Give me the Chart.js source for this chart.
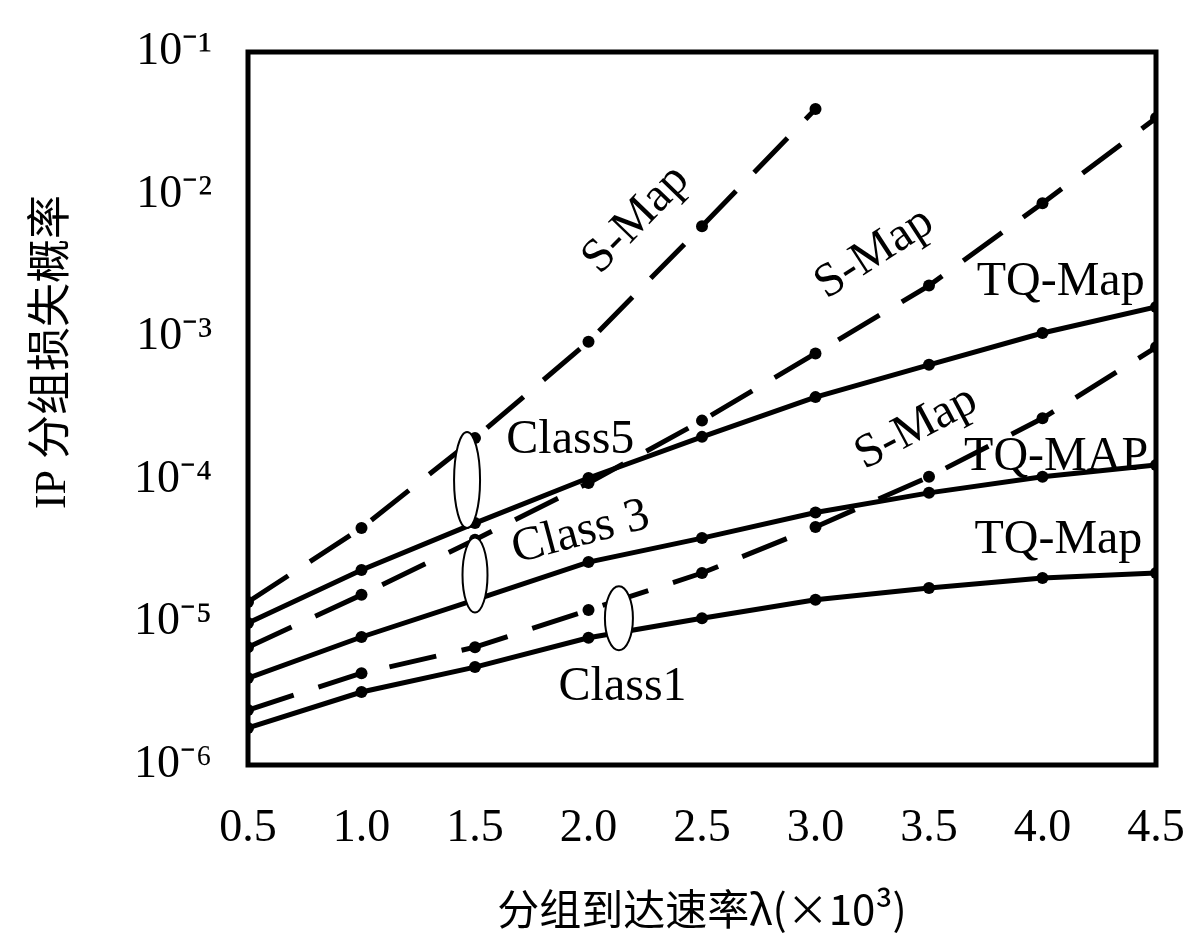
<!DOCTYPE html>
<html>
<head>
<meta charset="utf-8">
<script src="https://cdn.jsdelivr.net/npm/chart.js@4.4.0/dist/chart.umd.min.js"></script>
<style>
  html, body { margin: 0; padding: 0; background: #fff; }
</style>
</head>
<body>
<canvas id="chart" width="1200" height="944"></canvas>
<script>
// Arrival rate (x10^3) on the x axis
const rates = [0.5, 1.0, 1.5, 2.0, 2.5, 3.0, 3.5, 4.0, 4.5];
const yExponents = [-6, -5, -4, -3, -2, -1];

// IP packet loss probability
const class5SMap  = [1.39e-5, 4.6e-5, 1.96e-4, 9.3e-4, 6.0e-3, 3.98e-2];
const class5TQMap = [9.9e-6, 2.33e-5, 4.97e-5, 1.03e-4, 2.0e-4, 3.8e-4, 6.4e-4, 1.07e-3, 1.63e-3];
const class3SMap  = [6.7e-6, 1.56e-5, 3.8e-5, 9.5e-5, 2.6e-4, 7.7e-4, 2.3e-3, 8.7e-3, 3.44e-2];
const class3TQMap = [4.07e-6, 7.9e-6, 1.44e-5, 2.65e-5, 3.9e-5, 5.9e-5, 8.1e-5, 1.05e-4, 1.27e-4];
const class1SMap  = [2.43e-6, 4.4e-6, 6.7e-6, 1.22e-5, 2.22e-5, 4.67e-5, 1.05e-4, 2.7e-4, 8.5e-4];
const class1TQMap = [1.82e-6, 3.25e-6, 4.86e-6, 7.8e-6, 1.07e-5, 1.44e-5, 1.74e-5, 2.05e-5, 2.22e-5];

// Text placed on the curves (data coordinates, baseline centre)
const curveLabels = [
    { text: 'S-Map',   x: 2.25, y: 5.8e-3,  angle: -46 },
    { text: 'S-Map',   x: 3.29, y: 3.26e-3, angle: -33 },
    { text: 'TQ-Map',  x: 4.08, y: 1.98e-3, angle: 0 },
    { text: 'S-Map',   x: 3.47, y: 1.93e-4, angle: -28 },
    { text: 'TQ-MAP',  x: 4.06, y: 1.17e-4, angle: 0 },
    { text: 'TQ-Map',  x: 4.07, y: 3.07e-5, angle: 0 },
    { text: 'Class5',  x: 1.92, y: 1.54e-4, angle: 0 },
    { text: 'Class 3', x: 1.98, y: 3.49e-5, angle: -15 },
    { text: 'Class1',  x: 2.15, y: 2.86e-6, angle: 0 }
];

// Ellipses grouping each class pair
const groupMarks = [
    { x: 1.465, y: 9.97e-5, rx: 13,   ry: 48 },
    { x: 1.5,   y: 2.15e-5, rx: 12.5, ry: 37.5 },
    { x: 2.134, y: 1.07e-5, rx: 14,   ry: 32 }
];

const serif = "'Liberation Serif', 'Times New Roman', serif";
const sup = { '-': '\u207B', '1': '\u00B9', '2': '\u00B2', '3': '\u00B3', '4': '\u2074', '5': '\u2075', '6': '\u2076' };

function series(values, dashed) {
    return {
        data: values.map((v, i) => ({ x: rates[i], y: v })),
        borderColor: '#000',
        backgroundColor: '#000',
        borderWidth: 5,
        borderDash: dashed ? [48, 26] : [],
        pointRadius: 6,
        pointBackgroundColor: '#000',
        pointBorderWidth: 0,
        tension: 0
    };
}

const overlayPlugin = {
    id: 'overlay',
    afterDatasetsDraw(chart) {
        const { ctx, chartArea, scales } = chart;
        const xs = scales.x, ys = scales.y;
        ctx.save();

        // group ellipses (white inside)
        ctx.lineWidth = 2;
        ctx.strokeStyle = '#000';
        ctx.fillStyle = '#fff';
        groupMarks.forEach(m => {
            ctx.beginPath();
            ctx.ellipse(xs.getPixelForValue(m.x), ys.getPixelForValue(m.y), m.rx, m.ry, 0, 0, Math.PI * 2);
            ctx.fill();
            ctx.stroke();
        });

        // curve labels
        ctx.fillStyle = '#000';
        ctx.font = '48px ' + serif;
        ctx.textAlign = 'center';
        ctx.textBaseline = 'alphabetic';
        curveLabels.forEach(l => {
            ctx.save();
            ctx.translate(xs.getPixelForValue(l.x), ys.getPixelForValue(l.y));
            ctx.rotate(l.angle * Math.PI / 180);
            ctx.fillText(l.text, 0, 0);
            ctx.restore();
        });

        // plot frame
        ctx.lineWidth = 5;
        ctx.strokeRect(chartArea.left, chartArea.top, chartArea.right - chartArea.left, chartArea.bottom - chartArea.top);

        // y axis title
        ctx.save();
        ctx.translate(53, 352);
        ctx.rotate(-Math.PI / 2);
        ctx.font = "44px 'Liberation Serif', 'Noto Sans CJK SC', serif";
        ctx.textBaseline = 'middle';
        ctx.fillText('IP 分组损失概率', 0, 0);
        ctx.restore();

        ctx.restore();
    }
};

new Chart(document.getElementById('chart'), {
    type: 'line',
    data: {
        datasets: [
            series(class5SMap, true),
            series(class5TQMap, false),
            series(class3SMap, true),
            series(class3TQMap, false),
            series(class1SMap, true),
            series(class1TQMap, false)
        ]
    },
    options: {
        responsive: false,
        animation: false,
        layout: { padding: { top: 52, right: 44, left: 0, bottom: 0 } },
        plugins: { legend: { display: false }, tooltip: { enabled: false } },
        scales: {
            x: {
                type: 'linear',
                min: 0.5,
                max: 4.5,
                grid: { display: false, drawTicks: false },
                border: { display: false },
                afterBuildTicks: s => { s.ticks = rates.map(v => ({ value: v })); },
                afterFit: s => { s.height = 179; s.paddingLeft = 0; s.paddingRight = 0; },
                ticks: {
                    color: '#000',
                    padding: 36,
                    maxRotation: 0,
                    font: { family: serif, size: 46 },
                    callback: v => Number(v).toFixed(1)
                },
                title: {
                    display: true,
                    text: '分组到达速率λ(×10³)',
                    color: '#000',
                    padding: { top: 0, bottom: 10 },
                    font: { family: "'Noto Sans CJK SC', sans-serif", size: 42 }
                }
            },
            y: {
                type: 'logarithmic',
                min: 1e-6,
                max: 1e-1,
                grid: { display: false, drawTicks: false },
                border: { display: false },
                afterBuildTicks: s => { s.ticks = yExponents.map(e => ({ value: Math.pow(10, e) })); },
                afterFit: s => { s.width = 248; s.paddingTop = 0; s.paddingBottom = 0; },
                ticks: {
                    color: '#000',
                    padding: 36,
                    autoSkip: false,
                    font: { family: serif, size: 46 },
                    callback: v => '10' + String(Math.round(Math.log10(v))).split('').map(c => sup[c]).join('')
                }
            }
        }
    },
    plugins: [overlayPlugin]
});
</script>
</body>
</html>
